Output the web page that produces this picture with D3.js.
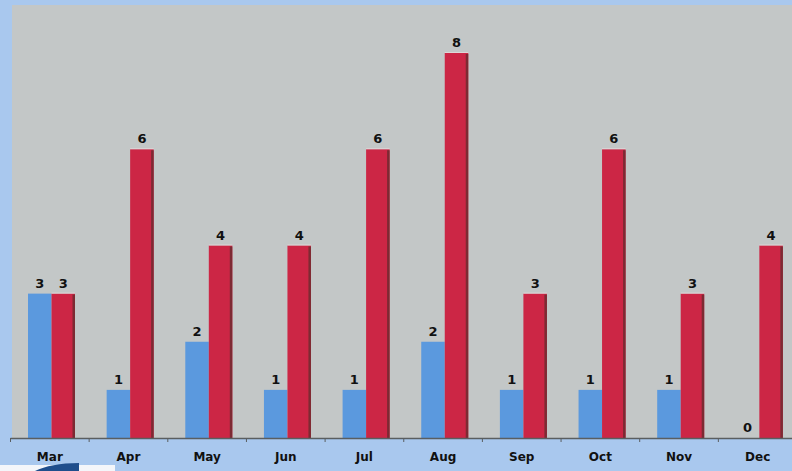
<!DOCTYPE html>
<html>
<head>
<meta charset="utf-8">
<script src="https://cdn.jsdelivr.net/npm/d3@7"></script>
<style>
  html, body { margin: 0; padding: 0; background: #a9c8ee; }
  svg { display: block; }
  text { font-family: "DejaVu Sans", Verdana, sans-serif; font-weight: bold; fill: #111; }
</style>
</head>
<body>
<svg id="chart" width="792" height="471"></svg>
<script>
// Monthly counts, two series side by side
const months = ["Mar", "Apr", "May", "Jun", "Jul", "Aug", "Sep", "Oct", "Nov", "Dec"];
const blueValues = [3, 1, 2, 1, 1, 2, 1, 1, 1, 0];
const redValues = [3, 6, 4, 4, 6, 8, 3, 6, 3, 4];

const W = 792, H = 471;
const plot = { left: 10.5, right: 797, top: 5, bottom: 438 };

const svg = d3.select("#chart");

// page background and grey plot panel
svg.append("rect").attr("width", W).attr("height", H).attr("fill", "#a9c8ee");
svg.append("rect")
  .attr("x", 12).attr("y", plot.top)
  .attr("width", W - 12).attr("height", plot.bottom - plot.top)
  .attr("fill", "#c3c7c7");

const x = d3.scaleBand().domain(months).range([plot.left, plot.right]).padding(0);
const y = d3.scaleLinear().domain([0, 8]).range([plot.bottom, 53]);

const barW = 23.5;
const offset = 17.5;

const rows = months.map((m, i) => ({ m, blue: blueValues[i], red: redValues[i] }));

// blue bars
svg.append("g").selectAll("rect").data(rows).join("rect")
  .attr("x", d => x(d.m) + offset)
  .attr("y", d => y(d.blue))
  .attr("width", barW)
  .attr("height", d => y(0) - y(d.blue))
  .attr("fill", "#5b99de");

// red bars with darker right edge
const red = svg.append("g").selectAll("g").data(rows).join("g");
red.append("rect")
  .attr("x", d => x(d.m) + offset + barW)
  .attr("y", d => y(d.red))
  .attr("width", barW)
  .attr("height", d => y(0) - y(d.red))
  .attr("fill", "#cc2645");
red.append("rect")
  .attr("x", d => x(d.m) + offset + barW * 2 - 2.5)
  .attr("y", d => y(d.red) + 1)
  .attr("width", 2.5)
  .attr("height", d => y(0) - y(d.red) - 1)
  .attr("fill", "#7d2a33");
// faint light rim along top edge of red bars
red.append("rect")
  .attr("x", d => x(d.m) + offset + barW)
  .attr("y", d => y(d.red) - 1)
  .attr("width", barW)
  .attr("height", 1)
  .attr("fill", "#e9dede")
  .attr("opacity", 0.7);

// value labels
const labels = svg.append("g").attr("font-size", 13).attr("text-anchor", "middle");
labels.selectAll("text.b").data(rows).join("text").attr("class", "b")
  .attr("x", d => x(d.m) + offset + barW / 2)
  .attr("y", d => y(d.blue) - 6)
  .text(d => d.blue);
labels.selectAll("text.r").data(rows).join("text").attr("class", "r")
  .attr("x", d => x(d.m) + offset + barW * 1.5)
  .attr("y", d => y(d.red) - 6)
  .text(d => d.red);

// category axis
const axis = d3.axisBottom(x).tickSize(0).tickPadding(14);
const gx = svg.append("g").attr("transform", `translate(0,${plot.bottom})`).call(axis);
gx.select(".domain").remove();
gx.selectAll("text").attr("font-size", 12).attr("font-family", "DejaVu Sans, Verdana, sans-serif")
  .attr("font-weight", "bold").attr("fill", "#111");
svg.append("line")
  .attr("x1", plot.left).attr("x2", W)
  .attr("y1", plot.bottom + 0.5).attr("y2", plot.bottom + 0.5)
  .attr("stroke", "#5a5e60").attr("stroke-width", 1.5);
// band boundary ticks
svg.append("g").selectAll("line").data(months).join("line")
  .attr("x1", d => x(d)).attr("x2", d => x(d))
  .attr("y1", plot.bottom).attr("y2", plot.bottom + 4)
  .attr("stroke", "#5a5e60").attr("stroke-width", 1);

// small logo strip at bottom-left
svg.append("rect").attr("x", 0).attr("y", 465).attr("width", 115).attr("height", 6).attr("fill", "#f4f6fa");
svg.append("path")
  .attr("d", "M35,471 C45,466 60,463 79,463 L79,471 Z")
  .attr("fill", "#1f4e8c");
</script>
</body>
</html>
